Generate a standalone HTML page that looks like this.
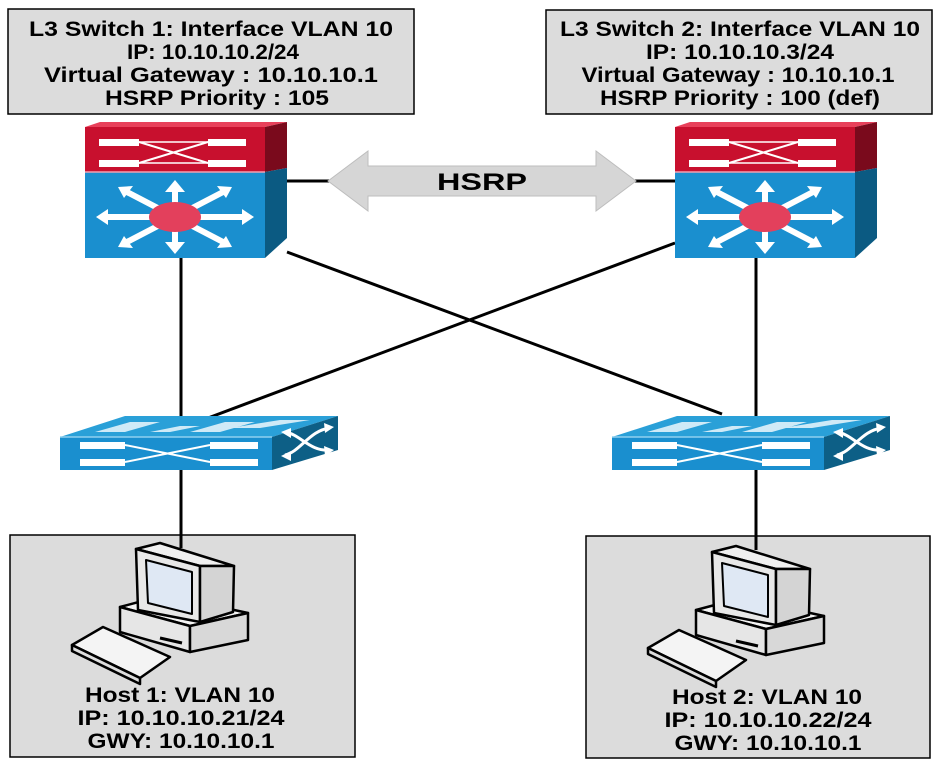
<!DOCTYPE html>
<html><head><meta charset="utf-8"><style>
html,body{margin:0;padding:0;background:#fff;}
svg{display:block;}
text{font-family:"Liberation Sans",Arial,sans-serif;font-weight:bold;fill:#000;}
</style></head><body>
<svg width="941" height="762" viewBox="0 0 941 762" xmlns="http://www.w3.org/2000/svg">
<defs>
<g id="l3">
  <polygon points="85,127 100,122 287,122 265,127" fill="#e8405a"/>
  <rect x="85" y="127" width="180" height="45" fill="#c8102e"/>
  <polygon points="265,127 287,122 287,168 265,172" fill="#7a0a1c"/>
  <rect x="85" y="172" width="180" height="86" fill="#1a8fcf"/>
  <polygon points="265,172 287,168 287,238 265,258" fill="#0b5a82"/>
  <line x1="85" y1="172" x2="265" y2="172" stroke="#f2a0b0" stroke-width="1.5"/>
  <rect x="99" y="139" width="40" height="7" fill="#fff"/>
  <rect x="99" y="160" width="40" height="7" fill="#fff"/>
  <rect x="208" y="139" width="38" height="7" fill="#fff"/>
  <rect x="208" y="160" width="38" height="7" fill="#fff"/>
  <line x1="139" y1="142" x2="208" y2="163" stroke="#fff" stroke-width="2"/>
  <line x1="139" y1="163" x2="208" y2="142" stroke="#fff" stroke-width="2"/>
  <line x1="139" y1="142" x2="208" y2="142" stroke="#fff" stroke-width="1.5"/>
  <line x1="139" y1="163" x2="208" y2="163" stroke="#fff" stroke-width="1.5"/>
  <g stroke="#fff" stroke-width="6" fill="none">
    <line x1="175" y1="217" x2="175" y2="186"/><line x1="175" y1="217" x2="175" y2="248"/>
    <line x1="175" y1="217" x2="102" y2="217"/><line x1="175" y1="217" x2="248" y2="217"/>
    <line x1="175" y1="217" x2="125" y2="191"/><line x1="175" y1="217" x2="225" y2="191"/>
    <line x1="175" y1="217" x2="125" y2="243"/><line x1="175" y1="217" x2="225" y2="243"/>
  </g>
  <g fill="#fff">
    <polygon points="175,180 165,192 185,192"/><polygon points="175,254 165,242 185,242"/>
    <polygon points="96,217 108,209 108,225"/><polygon points="254,217 242,209 242,225"/>
    <polygon points="118,187 133,186 124,198"/><polygon points="232,187 217,186 226,198"/>
    <polygon points="118,247 133,248 124,236"/><polygon points="232,247 217,248 226,236"/>
  </g>
  <ellipse cx="175" cy="217" rx="26" ry="15" fill="#e3405c"/>
</g>
<g id="acc">
  <polygon points="60,437 125,416 338,416 272,437" fill="#2aa0d8"/>
  <g fill="#cfeaf7">
    <polygon points="95,432 130,422 160,422 125,432"/><polygon points="190,432 225,422 255,422 220,432"/>
    <polygon points="150,432 180,426 200,426 170,432"/><polygon points="230,428 280,420 310,420 260,428"/>
  </g>
  <rect x="60" y="437" width="212" height="33" fill="#1a8fcf"/>
  <line x1="60" y1="437" x2="272" y2="437" stroke="#8fd0ef" stroke-width="1.5"/>
  <polygon points="272,437 338,416 338,450 272,470" fill="#0d5f86"/>
  <rect x="80" y="442" width="45" height="7" fill="#fff"/>
  <rect x="80" y="459" width="45" height="7" fill="#fff"/>
  <rect x="210" y="442" width="48" height="7" fill="#fff"/>
  <rect x="210" y="459" width="48" height="7" fill="#fff"/>
  <line x1="125" y1="445" x2="210" y2="462" stroke="#fff" stroke-width="2"/>
  <line x1="125" y1="462" x2="210" y2="445" stroke="#fff" stroke-width="2"/>
  <path d="M285,455 C300,452 310,430 330,428 M285,432 C300,434 310,452 330,450" stroke="#fff" stroke-width="3" fill="none"/>
  <polygon points="334,427 324,423 325,433" fill="#fff"/><polygon points="334,450 324,446 325,456" fill="#fff"/>
  <polygon points="281,456 291,451 291,461" fill="#fff"/><polygon points="281,432 291,428 291,438" fill="#fff"/>
</g>
<g id="pc" stroke="#000" stroke-width="2.5" stroke-linejoin="round">
  <polygon points="120,607 165,595 248,613 190,626" fill="#f4f4f4"/>
  <polygon points="120,607 190,626 190,652 120,632" fill="#e6e6e6"/>
  <polygon points="190,626 248,613 248,640 190,652" fill="#d8d8d8"/>
  <polygon points="136,549 160,543 234,566 200,566" fill="#f0f0f0"/>
  <polygon points="136,549 200,566 200,622 138,610" fill="#e8e8e8"/>
  <polygon points="200,566 234,566 233,612 200,622" fill="#d4d4d4"/>
  <polygon points="146,560 192,572 192,614 148,603" fill="#dfe8f4" stroke-width="2"/>
  <polygon points="72,645 103,627 170,657 140,678" fill="#f4f4f4"/>
  <polygon points="72,645 140,678 140,684 72,651" fill="#ddd"/>
  <line x1="160" y1="638" x2="182" y2="643" stroke-width="3"/>
</g>
</defs>

<rect x="8" y="9" width="406" height="105" fill="#dcdcdc" stroke="#000" stroke-width="1.5"/>
<g font-size="21" text-anchor="middle" lengthAdjust="spacingAndGlyphs">
<text x="211" y="36" textLength="364" lengthAdjust="spacingAndGlyphs">L3 Switch 1: Interface VLAN  10</text>
<text x="213" y="59" textLength="172" lengthAdjust="spacingAndGlyphs">IP: 10.10.10.2/24</text>
<text x="211" y="82" textLength="334" lengthAdjust="spacingAndGlyphs">Virtual Gateway : 10.10.10.1</text>
<text x="217" y="105" textLength="224" lengthAdjust="spacingAndGlyphs">HSRP Priority : 105</text>
</g>

<rect x="546" y="10" width="386" height="104" fill="#dcdcdc" stroke="#000" stroke-width="1.5"/>
<g font-size="21" text-anchor="middle">
<text x="740" y="36" textLength="360" lengthAdjust="spacingAndGlyphs">L3 Switch 2: Interface VLAN  10</text>
<text x="740" y="59" textLength="188" lengthAdjust="spacingAndGlyphs">IP: 10.10.10.3/24</text>
<text x="738" y="82" textLength="313" lengthAdjust="spacingAndGlyphs">Virtual Gateway : 10.10.10.1</text>
<text x="740" y="105" textLength="280" lengthAdjust="spacingAndGlyphs">HSRP Priority : 100 (def)</text>
</g>

<rect x="10" y="535" width="345" height="222" fill="#dcdcdc" stroke="#000" stroke-width="1.5"/>
<rect x="586" y="536" width="344" height="222" fill="#dcdcdc" stroke="#000" stroke-width="1.5"/>

<g stroke="#000" stroke-width="3">
  <line x1="287" y1="181" x2="330" y2="181"/>
  <line x1="634" y1="181" x2="675" y2="181"/>
  <line x1="181" y1="258" x2="181" y2="420"/>
  <line x1="756" y1="258" x2="756" y2="420"/>
  <line x1="287" y1="252" x2="722" y2="414"/>
  <line x1="675" y1="243" x2="208" y2="418"/>
  <line x1="181" y1="470" x2="181" y2="548"/>
  <line x1="756" y1="470" x2="756" y2="550"/>
</g>

<polygon points="328,181 368,151 368,166 596,166 596,151 636,181 596,211 596,196 368,196 368,211" fill="#d6d6d6" stroke="#bdbdbd" stroke-width="1"/>
<text x="482" y="190" font-size="24" text-anchor="middle" textLength="90" lengthAdjust="spacingAndGlyphs">HSRP</text>

<use href="#l3"/>
<use href="#l3" x="590"/>
<use href="#acc"/>
<use href="#acc" x="552"/>
<use href="#pc"/>
<use href="#pc" x="576" y="3"/>

<g font-size="21" text-anchor="middle">
<text x="180" y="702" textLength="190" lengthAdjust="spacingAndGlyphs">Host 1: VLAN 10</text>
<text x="181" y="725" textLength="207" lengthAdjust="spacingAndGlyphs">IP: 10.10.10.21/24</text>
<text x="181" y="748" textLength="187" lengthAdjust="spacingAndGlyphs">GWY: 10.10.10.1</text>
<text x="767" y="704" textLength="190" lengthAdjust="spacingAndGlyphs">Host 2: VLAN 10</text>
<text x="768" y="727" textLength="207" lengthAdjust="spacingAndGlyphs">IP: 10.10.10.22/24</text>
<text x="768" y="750" textLength="187" lengthAdjust="spacingAndGlyphs">GWY: 10.10.10.1</text>
</g>
</svg>
</body></html>
